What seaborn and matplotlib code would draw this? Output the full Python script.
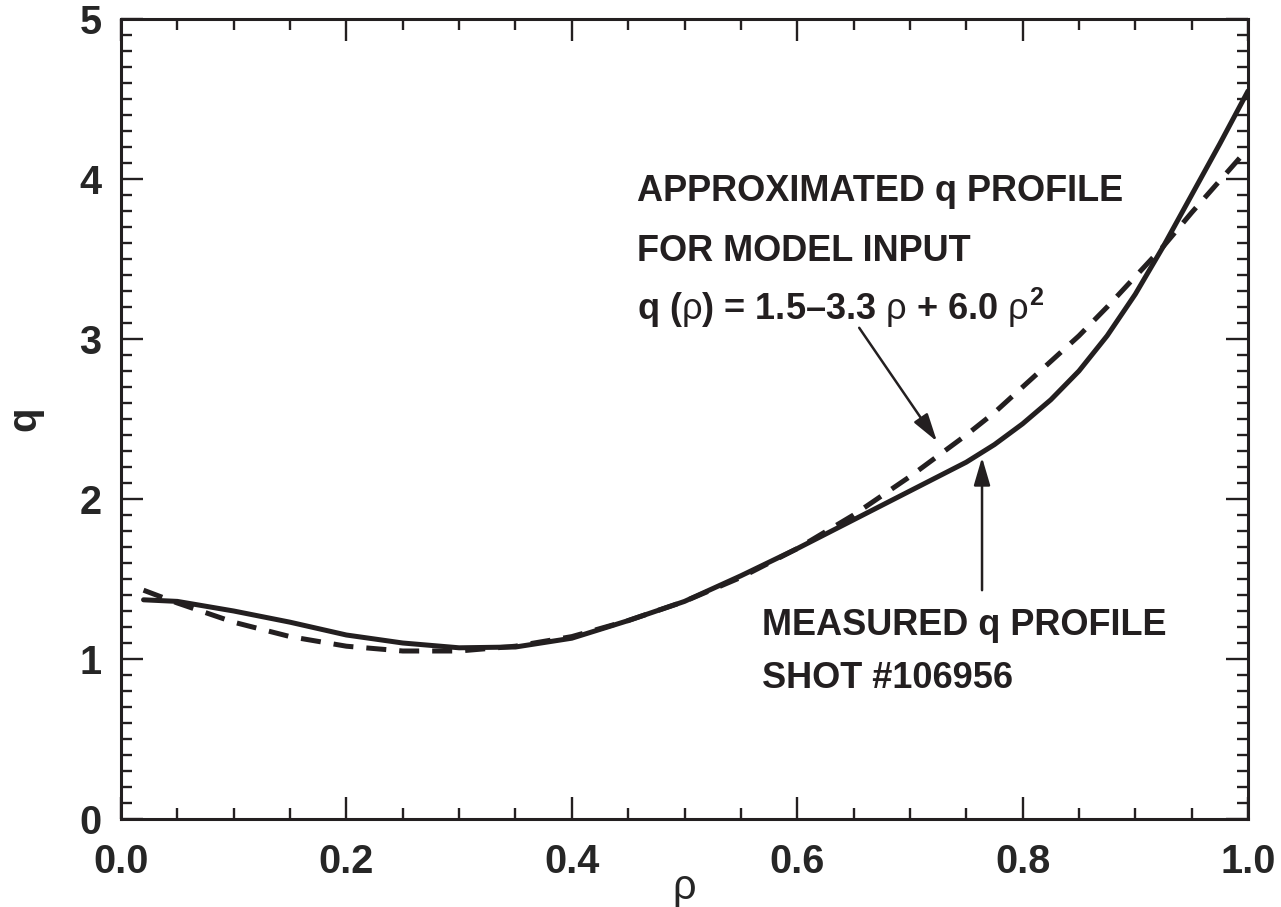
import numpy as np
import pandas as pd
import matplotlib
matplotlib.use("Agg")
import matplotlib.pyplot as plt
from matplotlib.ticker import MultipleLocator
import seaborn as sns

# ---- data ----
rho_measured = [0.02, 0.05, 0.10, 0.15, 0.20, 0.25, 0.30, 0.35, 0.40, 0.45, 0.50,
                0.55, 0.60, 0.65, 0.70, 0.725, 0.75, 0.775, 0.80, 0.825, 0.85, 0.875,
                0.90, 0.925, 0.95, 0.975, 1.00]
q_measured = [1.37, 1.36, 1.30, 1.23, 1.15, 1.10, 1.07, 1.075, 1.13, 1.24, 1.36,
              1.52, 1.69, 1.87, 2.05, 2.14, 2.23, 2.34, 2.47, 2.62, 2.80, 3.02,
              3.28, 3.58, 3.90, 4.22, 4.55]
rho_approx = [0.02, 0.05, 0.10, 0.15, 0.20, 0.25, 0.30, 0.35, 0.40, 0.45, 0.50,
              0.55, 0.60, 0.65, 0.70, 0.75, 0.775, 0.80, 0.825, 0.85, 0.875,
              0.90, 0.925, 0.95, 0.975, 1.00]
q_approx = [1.43, 1.35, 1.23, 1.14, 1.08, 1.05, 1.05, 1.08, 1.14, 1.24, 1.36,
            1.51, 1.69, 1.90, 2.14, 2.40, 2.54, 2.70, 2.86, 3.02, 3.20,
            3.39, 3.58, 3.79, 3.99, 4.19]

approx_label = ["APPROXIMATED q PROFILE", "FOR MODEL INPUT",
                "q ($\\rho$) = 1.5\u20133.3 $\\rho$ + 6.0 $\\rho^{2}$"]
measured_label = ["MEASURED q PROFILE", "SHOT #106956"]

xticks = [0.0, 0.2, 0.4, 0.6, 0.8, 1.0]
xtick_labels = ["0.0", "0.2", "0.4", "0.6", "0.8", "1.0"]
yticks = [0, 1, 2, 3, 4, 5]

INK = "#231f20"

sns.set_style("ticks")
plt.rcParams["font.family"] = ["Liberation Sans", "DejaVu Sans"]
plt.rcParams["mathtext.fontset"] = "custom"
plt.rcParams["mathtext.rm"] = "Liberation Sans:bold"
plt.rcParams["mathtext.it"] = "Liberation Sans"
plt.rcParams["mathtext.bf"] = "Liberation Sans:bold"
plt.rcParams["axes.edgecolor"] = INK
plt.rcParams["text.color"] = INK

df = pd.DataFrame({
    "rho": rho_measured + rho_approx,
    "q": q_measured + q_approx,
    "kind": ["measured"] * len(rho_measured) + ["approx"] * len(rho_approx),
})

fig = plt.figure(figsize=(12.81, 9.07), dpi=100)
ax = fig.add_axes([121 / 1281, 1 - 819 / 907, (1248 - 121) / 1281, (819 - 19) / 907])

sns.lineplot(data=df[df.kind == "measured"], x="rho", y="q", ax=ax,
             color=INK, lw=3.6, sort=False, estimator=None)
sns.lineplot(data=df[df.kind == "approx"], x="rho", y="q", ax=ax,
             color=INK, lw=3.6, sort=False, estimator=None)
ax.lines[0].set_solid_joinstyle("round")
ax.lines[1].set_dashes((4.0, 2.6))

ax.set_xlim(0, 1.0)
ax.set_ylim(0, 5)
ax.set_xticks(xticks)
ax.set_xticklabels(xtick_labels)
ax.set_yticks(yticks)
ax.xaxis.set_minor_locator(MultipleLocator(0.05))
ax.yaxis.set_minor_locator(MultipleLocator(0.1))

for s in ax.spines.values():
    s.set_visible(True)
    s.set_linewidth(2.2)

ax.tick_params(which="both", direction="in", top=True, right=True, color=INK)
ax.tick_params(which="major", length=16, width=1.7, labelsize=28.5)
ax.tick_params(which="minor", length=8, width=1.7)
ax.tick_params(axis="x", which="major", pad=17)
ax.tick_params(axis="y", which="major", pad=14)
for lab in ax.get_xticklabels() + ax.get_yticklabels():
    lab.set_fontweight("bold")

ax.set_xlabel("\u03c1", fontsize=30, fontweight="normal", labelpad=-9)
ax.set_ylabel("q", fontsize=29, fontweight="bold", labelpad=26)

# annotation texts
ys = [3.86, 3.49, 3.12]
for txt, y in zip(approx_label, ys):
    ax.text(0.458, y, txt, fontsize=26, fontweight="bold", ha="left", va="baseline")
ys2 = [1.15, 0.82]
for txt, y in zip(measured_label, ys2):
    ax.text(0.569, y, txt, fontsize=26, fontweight="bold", ha="left", va="baseline")

arrow_kw = dict(arrowstyle="-|>,head_length=0.85,head_width=0.25",
                color=INK, lw=1.8, mutation_scale=20, shrinkA=0, shrinkB=0)
ax.annotate("", xy=(0.724, 2.36), xytext=(0.655, 3.07), arrowprops=arrow_kw)
ax.annotate("", xy=(0.764, 2.26), xytext=(0.764, 1.43), arrowprops=arrow_kw)

fig.savefig("out.png", dpi=100)
